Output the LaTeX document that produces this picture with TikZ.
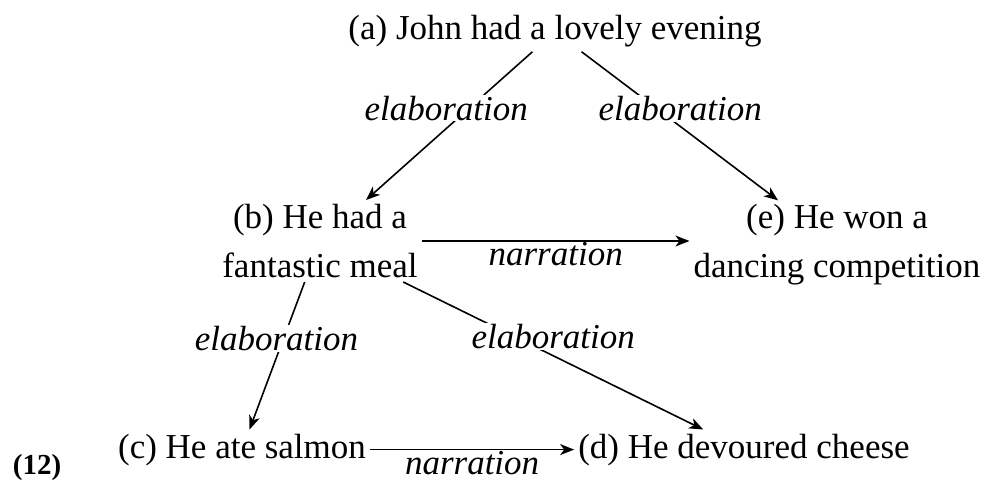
\documentclass[tikz,border=0pt]{standalone}
\usepackage{fontspec}
\setmainfont{Liberation Serif}
\usetikzlibrary{arrows.meta}
\tikzset{txt/.style={font=\fontsize{35}{49}\selectfont, inner sep=4pt},
         rel/.style={font=\fontsize{35}{49}\selectfont\itshape, fill=white, inner sep=1pt},
         link/.style={-{Stealth[length=14pt,width=11pt,inset=4pt]}, line width=1.6pt}}

\begin{document}
\begin{tikzpicture}[x=1pt,y=-1pt]
  \useasboundingbox (0,0) rectangle (984,481);
  \node[txt,anchor=base] (a) at (555,40) {(a) John had a lovely evening};
  \node[txt,align=center] (b) at (320,241) {(b) He had a\\fantastic meal};
  \node[txt,align=center] (e) at (837,245) {(e) He won a\\dancing competition};
  \node[txt,anchor=base] (c) at (242,458) {(c) He ate salmon};
  \node[txt,anchor=base] (d) at (744,458) {(d) He devoured cheese};
  \node[anchor=base,font=\fontsize{29}{30}\selectfont\bfseries] (ex) at (37,474) {(12)};
  \draw[link] (a) -- node[rel,pos=0.38,xshift=-23pt] {elaboration} (b);
  \draw[link] (a) -- node[rel,pos=0.38,xshift=24pt] {elaboration} (e);
  \draw[link] (b.east) -- node[rel,below,fill=none] {narration} (b.east -| e.west);
  \draw[link] (b) -- node[rel,pos=0.385,xshift=-7pt] {elaboration} (c);
  \draw[link] (b) -- node[rel,pos=0.37,xshift=39pt] {elaboration} (d);
  \draw[link] (c) -- node[rel,below,fill=none] {narration} (d);
\end{tikzpicture}
\end{document}
